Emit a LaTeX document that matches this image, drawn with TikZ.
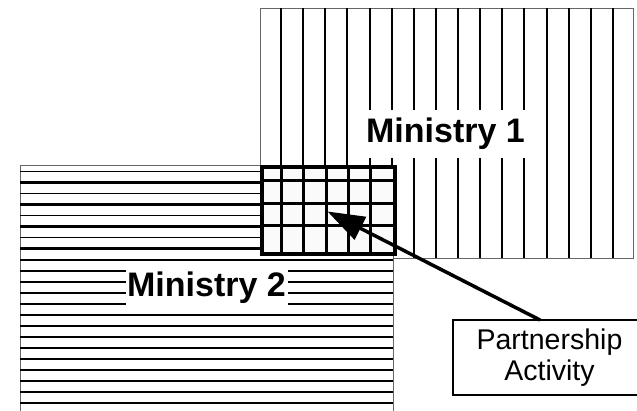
\documentclass[tikz,border=0pt]{standalone}
\usepackage{fontspec}
\setmainfont{Liberation Sans}
\usetikzlibrary{arrows.meta}
\begin{document}
\begin{tikzpicture}[x=1pt,y=-1pt,
  region/.style={draw=black!60, line width=1pt, fill=white, inner sep=0pt, anchor=north west},
  vline/.style={line width=2pt, black},
  hlinea/.style={line width=1.6pt, black},
  hlineb/.style={line width=2.5pt, black},
  overlapbox/.style={draw=black, line width=4pt, fill=black!2, inner sep=0pt, anchor=north west},
  gridline/.style={line width=3pt, black},
  bigname/.style={fill=white, inner sep=0pt, anchor=base, font=\fontsize{34}{36}\selectfont\bfseries},
  notebox/.style={draw=black, line width=1.5pt, fill=white, inner sep=0pt, align=center,
    font=\fontsize{28.5}{31.7}\selectfont},
  pointer/.style={line width=3.5pt, -{Triangle[length=37pt,width=25pt]}}
]
\useasboundingbox (0,0) rectangle (637,411);
\clip (0,0) rectangle (637,411);
% Ministry 1
\node[region, minimum width=373pt, minimum height=249.5pt] (m1) at (260,8.5) {};
\foreach \i in {0,...,15}
  \draw[vline] ({281+22.13*\i},8.5) -- ({281+22.13*\i},258);
% Ministry 2
\node[region, minimum width=372.5pt, minimum height=260pt] (m2) at (20,165) {};
\foreach \k in {0,2,...,20}
  \draw[hlinea] (20,{171.5+11.03*\k}) -- (392.5,{171.5+11.03*\k});
\foreach \k in {1,3,...,21}
  \draw[hlineb] (20,{171.5+11.03*\k}) -- (392.5,{171.5+11.03*\k});
% Overlap (partnership) area
\node[overlapbox, minimum width=132.5pt, minimum height=87.5pt] (ov) at (260,165) {};
\foreach \x in {281.7,303.5,326,348.3,370.3}
  \draw[gridline] (\x,165) -- (\x,252.5);
\foreach \y in {180.7,203.3,226}
  \draw[gridline] (260,\y) -- (392.5,\y);
% Labels
\node[bigname, minimum width=172pt, text height=33pt, text depth=15pt] (l1) at (445.5,143) {Ministry 1};
\node[bigname, minimum width=162pt, text height=32.7pt, text depth=13.3pt] (l2) at (206.5,296.7) {Ministry 2};
% Partnership activity box
\node[notebox, minimum width=193pt, minimum height=75pt] (pa) at (549.5,357.5) {Partnership\\Activity};
\coordinate (tail) at (540,320);
\coordinate (tip) at (327.5,211.5);
\draw[pointer] (tail) -- (tip);
\end{tikzpicture}
\end{document}
